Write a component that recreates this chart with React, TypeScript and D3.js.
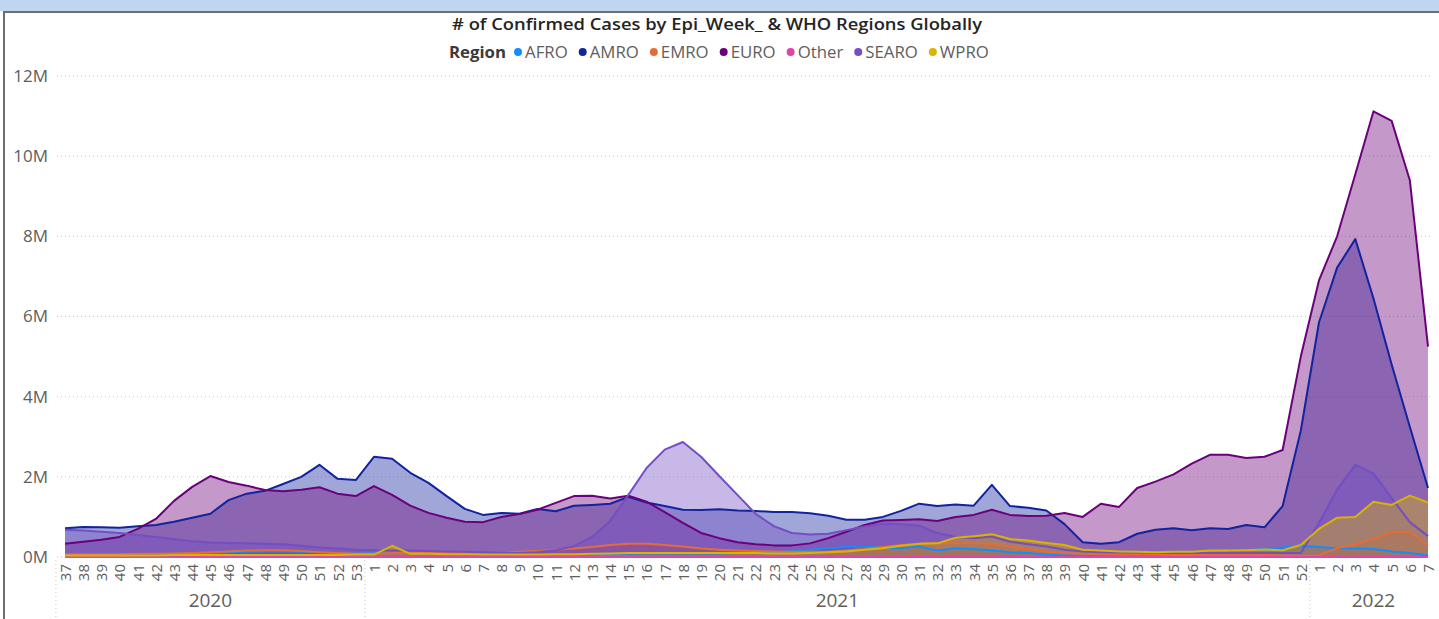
import React, { useEffect, useRef } from 'react'
import * as d3 from 'd3'

// epi week categories
const years = ['2020', '2021', '2022']
const weeks2020 = ['37', '38', '39', '40', '41', '42', '43', '44', '45', '46', '47', '48', '49', '50', '51', '52', '53']
const weeks2021 = ['1', '2', '3', '4', '5', '6', '7', '8', '9', '10', '11', '12', '13', '14', '15', '16', '17', '18', '19', '20',
    '21', '22', '23', '24', '25', '26', '27', '28', '29', '30', '31', '32', '33', '34', '35', '36', '37', '38', '39', '40',
    '41', '42', '43', '44', '45', '46', '47', '48', '49', '50', '51', '52']
const weeks2022 = ['1', '2', '3', '4', '5', '6', '7']

// confirmed cases, millions
const afro = [0.05, 0.05, 0.05, 0.06, 0.06, 0.07, 0.08, 0.09, 0.1, 0.12, 0.13, 0.14, 0.14, 0.13, 0.12, 0.1, 0.09,
    0.1, 0.12, 0.1, 0.08, 0.07, 0.06, 0.06, 0.06, 0.06, 0.06, 0.06, 0.06, 0.07, 0.08, 0.08, 0.09, 0.09, 0.09, 0.09, 0.09,
    0.1, 0.1, 0.12, 0.15, 0.18, 0.22, 0.25, 0.26, 0.24, 0.22, 0.26, 0.16, 0.22, 0.2, 0.16, 0.12, 0.1, 0.06, 0.04, 0.03,
    0.03, 0.04, 0.05, 0.06, 0.07, 0.08, 0.1, 0.12, 0.16, 0.2, 0.24, 0.28,
    0.25, 0.22, 0.21, 0.2, 0.14, 0.1, 0.04]
const amro = [0.72, 0.75, 0.74, 0.73, 0.77, 0.8, 0.88, 0.98, 1.08, 1.42, 1.58, 1.65, 1.82, 2.0, 2.3, 1.95, 1.92,
    2.5, 2.45, 2.1, 1.85, 1.52, 1.2, 1.05, 1.1, 1.08, 1.2, 1.14, 1.28, 1.3, 1.33, 1.5, 1.36, 1.27, 1.18, 1.17, 1.19,
    1.16, 1.15, 1.12, 1.12, 1.09, 1.03, 0.93, 0.93, 1.0, 1.15, 1.33, 1.27, 1.31, 1.28, 1.8, 1.27, 1.23, 1.16, 0.82, 0.37,
    0.33, 0.37, 0.58, 0.68, 0.72, 0.67, 0.72, 0.7, 0.8, 0.74, 1.27, 3.15,
    5.85, 7.22, 7.93, 6.45, 4.8, 3.25, 1.72]
const emro = [0.07, 0.07, 0.07, 0.07, 0.08, 0.08, 0.09, 0.1, 0.12, 0.14, 0.16, 0.17, 0.17, 0.15, 0.12, 0.1, 0.08,
    0.08, 0.1, 0.1, 0.1, 0.1, 0.1, 0.11, 0.12, 0.13, 0.15, 0.18, 0.21, 0.25, 0.3, 0.33, 0.33, 0.3, 0.26, 0.21, 0.18,
    0.16, 0.15, 0.14, 0.13, 0.13, 0.14, 0.17, 0.2, 0.25, 0.3, 0.33, 0.34, 0.34, 0.34, 0.33, 0.26, 0.2, 0.14, 0.1, 0.08,
    0.07, 0.06, 0.06, 0.06, 0.05, 0.05, 0.05, 0.05, 0.05, 0.05, 0.04, 0.03,
    0.04, 0.22, 0.32, 0.45, 0.63, 0.63, 0.28]
const euro = [0.33, 0.38, 0.43, 0.5, 0.7, 0.95, 1.4, 1.75, 2.02, 1.87, 1.78, 1.67, 1.64, 1.68, 1.74, 1.58, 1.52,
    1.77, 1.55, 1.28, 1.1, 0.98, 0.88, 0.87, 1.0, 1.07, 1.18, 1.35, 1.52, 1.53, 1.46, 1.53, 1.38, 1.12, 0.85, 0.6, 0.47,
    0.37, 0.32, 0.29, 0.29, 0.34, 0.47, 0.63, 0.8, 0.91, 0.92, 0.94, 0.9, 1.0, 1.05, 1.18, 1.05, 1.02, 1.03, 1.1, 1.0,
    1.33, 1.25, 1.72, 1.88, 2.06, 2.33, 2.55, 2.55, 2.47, 2.5, 2.67, 5.0,
    6.9, 8.0, 9.55, 11.12, 10.88, 9.4, 5.25]
const other = [0, 0, 0, 0, 0, 0, 0, 0, 0, 0, 0, 0, 0, 0, 0, 0, 0,
    0, 0, 0, 0, 0, 0, 0, 0, 0, 0, 0, 0, 0, 0, 0, 0, 0, 0, 0, 0,
    0, 0, 0, 0, 0, 0, 0, 0, 0, 0, 0, 0, 0, 0, 0, 0, 0, 0, 0, 0,
    0, 0, 0, 0, 0, 0, 0, 0, 0, 0, 0, 0,
    0, 0, 0, 0, 0, 0, 0]
const searo = [0.68, 0.66, 0.63, 0.6, 0.55, 0.5, 0.44, 0.39, 0.36, 0.35, 0.34, 0.33, 0.32, 0.28, 0.24, 0.21, 0.18,
    0.17, 0.16, 0.16, 0.15, 0.14, 0.13, 0.12, 0.11, 0.1, 0.12, 0.17, 0.27, 0.5, 0.9, 1.55, 2.22, 2.68, 2.87, 2.5, 2.02,
    1.55, 1.08, 0.77, 0.6, 0.56, 0.58, 0.67, 0.76, 0.83, 0.82, 0.78, 0.6, 0.5, 0.47, 0.51, 0.38, 0.32, 0.26, 0.18, 0.14,
    0.12, 0.11, 0.11, 0.1, 0.1, 0.1, 0.1, 0.1, 0.1, 0.1, 0.1, 0.1,
    0.85, 1.68, 2.3, 2.08, 1.47, 0.87, 0.52]
const wpro = [0.04, 0.04, 0.04, 0.04, 0.04, 0.04, 0.05, 0.05, 0.05, 0.05, 0.05, 0.05, 0.05, 0.05, 0.05, 0.05, 0.06,
    0.06, 0.28, 0.08, 0.08, 0.07, 0.07, 0.06, 0.06, 0.06, 0.06, 0.07, 0.07, 0.08, 0.09, 0.1, 0.1, 0.1, 0.1, 0.1, 0.1,
    0.1, 0.1, 0.09, 0.09, 0.1, 0.12, 0.14, 0.18, 0.22, 0.28, 0.33, 0.34, 0.48, 0.52, 0.57, 0.45, 0.41, 0.35, 0.3, 0.18,
    0.16, 0.14, 0.13, 0.12, 0.13, 0.13, 0.16, 0.16, 0.17, 0.19, 0.17, 0.3,
    0.7, 0.98, 1.0, 1.38, 1.3, 1.53, 1.36]

const regions = ['AFRO', 'AMRO', 'EMRO', 'EURO', 'Other', 'SEARO', 'WPRO']
const regionValues = [afro, amro, emro, euro, other, searo, wpro]
const regionColors = ['#118DFF', '#12239E', '#E66C37', '#6B007B', '#E044A7', '#744EC2', '#D9B300']
const yTicks = [0, 2, 4, 6, 8, 10, 12]

const W = 1439
const H = 619

export default function App() {
    const ref = useRef<SVGSVGElement>(null)

    useEffect(() => {
        document.body.style.margin = '0'
        const svg = d3.select(ref.current)
        svg.selectAll('*').remove()

        const weekGroups = [weeks2020, weeks2021, weeks2022]
        const keys: string[] = []
        weekGroups.forEach((ws, yi) => ws.forEach(w => keys.push(years[yi] + '-' + w)))

        const x = d3.scalePoint<string>().domain(keys).range([65, 1428])
        const y = d3.scaleLinear().domain([0, 12]).range([557, 76])
        const step = x.step()

        // frame
        svg.append('rect').attr('x', 0).attr('y', 0).attr('width', W).attr('height', H).attr('fill', '#ffffff')
        svg.append('rect').attr('x', 0).attr('y', 0).attr('width', W).attr('height', 11).attr('fill', '#BFD7EE')
        svg.append('line').attr('x1', 3).attr('x2', W).attr('y1', 12).attr('y2', 12)
            .attr('stroke', '#6e6e6e').attr('stroke-width', 2)
        svg.append('line').attr('x1', 4).attr('x2', 4).attr('y1', 11).attr('y2', H)
            .attr('stroke', '#6e6e6e').attr('stroke-width', 2)

        // title
        svg.append('text')
            .attr('x', 717).attr('y', 30)
            .attr('text-anchor', 'middle')
            .attr('textLength', 530).attr('lengthAdjust', 'spacingAndGlyphs')
            .style('font-family', 'Open Sans, sans-serif')
            .style('font-size', '16px')
            .style('font-weight', '600')
            .style('fill', '#252423')
            .text('# of Confirmed Cases by Epi_Week_ & WHO Regions Globally')

        // legend
        const lg = svg.append('g').style('font-family', 'Open Sans, sans-serif').style('font-size', '16.8px')
        let lx = 449
        const rt = lg.append('text').attr('x', lx).attr('y', 58)
            .style('font-weight', '700').style('fill', '#3b3a39').text('Region')
        lx += (rt.node() as SVGTextElement).getComputedTextLength() + 12
        regions.forEach((r, i) => {
            lg.append('circle').attr('cx', lx).attr('cy', 52).attr('r', 4).attr('fill', regionColors[i])
            const t = lg.append('text').attr('x', lx + 7).attr('y', 58).style('fill', '#605E5C').text(r)
            lx += 7 + (t.node() as SVGTextElement).getComputedTextLength() + 15
        })

        // gridlines
        svg.append('g').selectAll('line').data(yTicks).join('line')
            .attr('x1', 57).attr('x2', 1432)
            .attr('y1', d => y(d)).attr('y2', d => y(d))
            .attr('stroke', '#C8C6C4').attr('stroke-width', 1).attr('stroke-dasharray', '1,3')

        // y axis
        const yAxis = svg.append('g').attr('transform', 'translate(48,0)')
            .call(d3.axisLeft(y).tickValues(yTicks).tickFormat(d => d + 'M').tickSize(0).tickPadding(0))
        yAxis.select('.domain').remove()
        yAxis.selectAll('text')
            .style('font-family', 'Open Sans, sans-serif').style('font-size', '17px').style('fill', '#605E5C')

        // x axis
        const xAxis = svg.append('g').attr('transform', 'translate(0,557)')
            .call(d3.axisBottom(x).tickFormat(k => k.split('-')[1]).tickSize(0))
        xAxis.select('.domain').remove()
        xAxis.selectAll('text')
            .attr('transform', 'rotate(-90)')
            .attr('text-anchor', 'end')
            .attr('x', -7).attr('y', 0).attr('dy', '0.36em')
            .style('font-family', 'Open Sans, sans-serif').style('font-size', '15px').style('fill', '#605E5C')

        // year groups
        weekGroups.forEach((ws, yi) => {
            const x0 = (x(years[yi] + '-' + ws[0]) as number) - step / 2
            const x1 = (x(years[yi] + '-' + ws[ws.length - 1]) as number) + step / 2
            svg.append('line').attr('x1', x0).attr('x2', x0).attr('y1', 560).attr('y2', H)
                .attr('stroke', '#C8C6C4').attr('stroke-dasharray', '1,3')
            svg.append('text').attr('x', (x0 + x1) / 2).attr('y', 607)
                .attr('text-anchor', 'middle')
                .style('font-family', 'Open Sans, sans-serif').style('font-size', '19px').style('fill', '#605E5C')
                .text(years[yi])
        })

        const area = d3.area<number>()
            .x((d, i) => x(keys[i]) as number)
            .y0(y(0))
            .y1(d => y(d))
        const line = d3.line<number>()
            .x((d, i) => x(keys[i]) as number)
            .y(d => y(d))

        const plot = svg.append('g')
        regionValues.forEach((vals, i) => {
            plot.append('path').datum(vals).attr('d', area)
                .attr('fill', regionColors[i]).attr('fill-opacity', 0.4)
        })
        regionValues.forEach((vals, i) => {
            plot.append('path').datum(vals).attr('d', line)
                .attr('fill', 'none').attr('stroke', regionColors[i]).attr('stroke-width', 2)
                .attr('stroke-linejoin', 'round')
        })
    }, [])

    return <svg ref={ref} width={W} height={H} style={{ display: 'block' }} />
}
